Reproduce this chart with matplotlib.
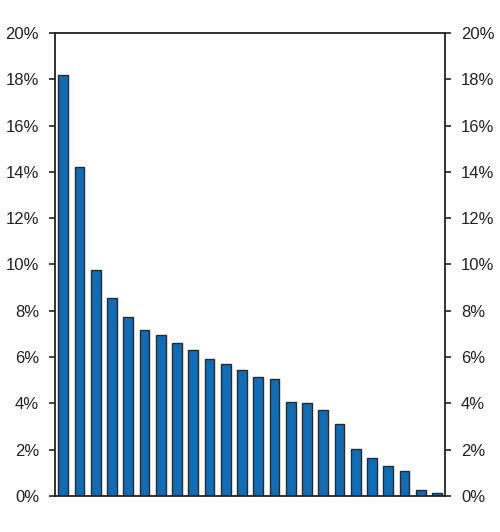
import numpy as np
import matplotlib
matplotlib.use('Agg')
import matplotlib.pyplot as plt
from matplotlib.ticker import FuncFormatter

plt.rcParams['font.family'] = ['Liberation Sans', 'DejaVu Sans']

# bar values in percent
values = [18.2, 14.2, 9.75, 8.55, 7.75, 7.15, 6.95, 6.6, 6.3, 5.9, 5.7, 5.45,
          5.15, 5.05, 4.05, 4.0, 3.7, 3.1, 2.05, 1.65, 1.3, 1.1, 0.25, 0.15]
yticks = [0, 2, 4, 6, 8, 10, 12, 14, 16, 18, 20]

fig = plt.figure(figsize=(5.0, 5.32), dpi=100)
ax = fig.add_axes([0.11, 0.0677, 0.78, 0.8703])

x = np.arange(len(values))
ax.bar(x, values, width=0.6, color='#0f6cb6', edgecolor='#2a2a2a', linewidth=1.0, zorder=2)

ax.set_xlim(-0.5, len(values) - 0.5)
ax.set_ylim(0, 20)
ax.set_xticks([])
ax.set_yticks(yticks)
pct = FuncFormatter(lambda v, p: f'{v:.0f}%')
ax.yaxis.set_major_formatter(pct)
ax.tick_params(axis='y', direction='out', length=4, width=1.2, labelsize=12,
               colors='#222222', pad=7.5, labelright=True, right=True)

for s in ax.spines.values():
    s.set_linewidth(1.3)
    s.set_color('#222222')

fig.savefig('out.png', dpi=100)
